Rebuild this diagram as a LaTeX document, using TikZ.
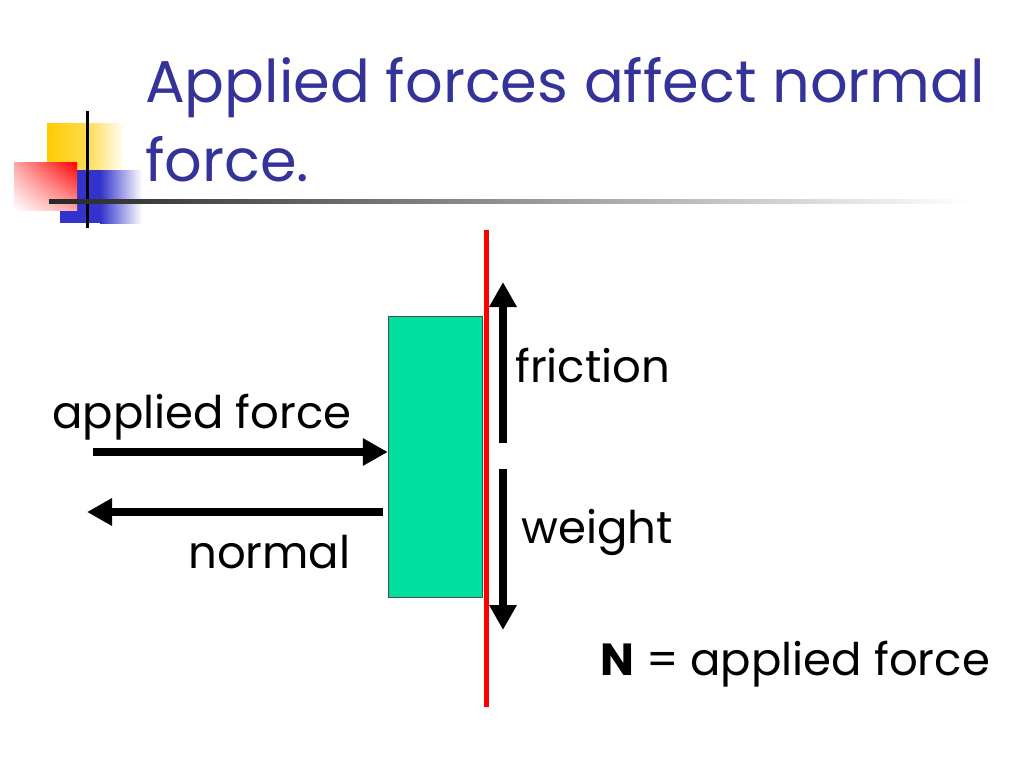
\documentclass[tikz,border=0pt]{standalone}
\usepackage{fontspec}
\setmainfont{Poppins}
\usetikzlibrary{arrows.meta,positioning,shadings}
\definecolor{titleblue}{RGB}{51,51,153}
\definecolor{blockgreen}{RGB}{0,222,160}
\definecolor{deco yellow}{RGB}{255,204,0}
\definecolor{deco blue}{RGB}{51,51,204}
\tikzset{force/.style={black,line width=8pt,-{Triangle[length=25pt,width=26pt]}},
         label/.style={anchor=base west,inner sep=0pt,font=\fontsize{45}{50}\selectfont},
         heading/.style={anchor=base west,inner sep=0pt,text=titleblue,font=\fontsize{59}{64}\selectfont}}

\begin{document}
\begin{tikzpicture}[x=1pt,y=-1pt]
  \useasboundingbox[fill=white] (0,0) rectangle (1024,768);
  % corner decoration
  \shade[left color=deco yellow,right color=white,middle color=deco yellow!70] (47,123) rectangle (125,170);
  \fill[deco blue] (60,170) rectangle (100,223);
  \shade[left color=deco blue,right color=white] (100,170) rectangle (142,223);
  \shade[upper left=red!35,upper right=red,lower left=white,lower right=red!35] (14,162) rectangle (77,210);
  \draw[black,line width=3pt] (87,111) -- (87,228);
  \shade[left color=black!85,right color=white] (49,199) rectangle (970,203);
  % title
  \node[heading] (title1) at (145,102) {Applied forces affect normal};
  \node[heading] (title2) at (145,181) {force.};
  % wall and block
  \draw[red,line width=5pt] (486,230) -- (486,707);
  \node[draw=black!70,fill=blockgreen,minimum width=94pt,minimum height=281pt,inner sep=0pt] (block) at (435,456.5) {};
  % forces
  \coordinate (push) at (93,452);
  \coordinate (normtip) at (87,512);
  \coordinate (fricbase) at (503,443);
  \coordinate (frictip) at (503,282);
  \coordinate (wtbase) at (503,469);
  \coordinate (wttip) at (503,630);
  \draw[force] (push) -- (push -| block.west);
  \draw[force] (normtip -| block.west) ++(-5,0) -- (normtip);
  \draw[force] (fricbase) -- (frictip);
  \draw[force] (wtbase) -- (wttip);
  % labels
  \node[label] (applied) at (52,428) {applied force};
  \node[label] (normal) at (188,568) {normal};
  \node[label] (friction) at (515,382) {friction};
  \node[label] (weight) at (521,543) {weight};
  \node[label] (result) at (600,675) {\textbf{N} = applied force};
\end{tikzpicture}
\end{document}
